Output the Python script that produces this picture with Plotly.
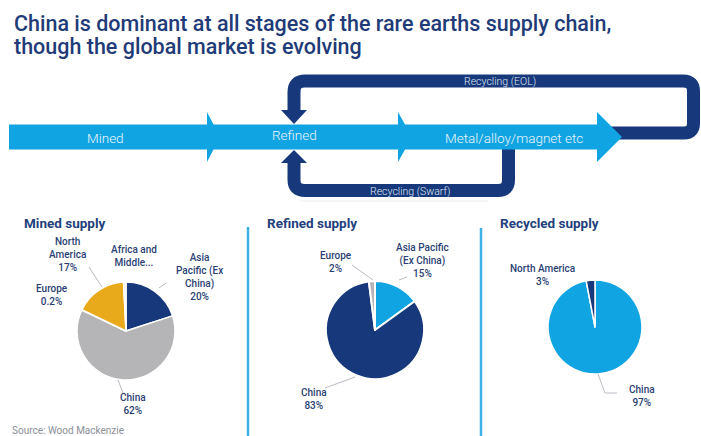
import plotly.graph_objects as go

# ---------------- data ----------------
title_lines = ["China is dominant at all stages of the rare earths supply chain,",
               "though the global market is evolving"]
stage_labels = ["Mined", "Refined", "Metal/alloy/magnet etc"]
loop_labels = ["Recycling (EOL)", "Recycling (Swarf)"]
panel_titles = ["Mined supply", "Refined supply", "Recycled supply"]

mined_labels = ["Asia Pacific (Ex China)", "China", "Europe", "North America", "Africa and Middle East"]
mined_values = [20, 62, 0.2, 17, 0.8]
mined_text = ["Asia<br>Pacific (Ex<br>China)", "China", "Europe", "North<br>America", "Africa and<br>Middle..."]
mined_show_pct = [True, True, True, True, False]

refined_labels = ["Asia Pacific (Ex China)", "China", "Europe"]
refined_values = [15, 83, 2]
refined_text = ["Asia Pacific<br>(Ex China)", "China", "Europe"]

recycled_labels = ["China", "North America"]
recycled_values = [97, 3]
recycled_text = ["China", "North America"]

source_text = "Source: Wood Mackenzie"

# ---------------- styles ----------------
W, H = 701, 436
NAVY = "#17397b"
LBLUE = "#11a4e2"
GOLD = "#e8a91b"
GREY = "#b5b5b7"
TXT = "#2b3f74"
FONT = "Roboto"


def fmt_pct(v):
    return (f"{v:g}%")


def pie_domain(cx, cy, r):
    return dict(x=[(cx - r) / W, (cx + r) / W], y=[1 - (cy + r) / H, 1 - (cy - r) / H])


fig = go.Figure()

# invisible pixel axes for shapes / annotations
fig.add_trace(go.Scatter(x=[0, W], y=[0, H], mode="markers", marker=dict(opacity=0),
                         hoverinfo="skip", showlegend=False))

pie_common = dict(sort=False, direction="clockwise", rotation=0, textinfo="none",
                  hoverinfo="label+percent", showlegend=False)

fig.add_trace(go.Pie(labels=mined_labels, values=mined_values,
                     marker=dict(colors=[NAVY, GREY, GREY, GOLD, "#dfe3ea"],
                                 line=dict(color="white", width=1.5)),
                     domain=pie_domain(126, 331, 49), **pie_common))
fig.add_trace(go.Pie(labels=refined_labels, values=refined_values,
                     marker=dict(colors=[LBLUE, NAVY, GREY],
                                 line=dict(color="white", width=2)),
                     domain=pie_domain(375, 330, 49), **pie_common))
fig.add_trace(go.Pie(labels=recycled_labels, values=recycled_values,
                     marker=dict(colors=[LBLUE, NAVY],
                                 line=dict(color="white", width=1.5)),
                     domain=pie_domain(595, 327, 47), **pie_common))

shapes = []
# recycling loops (drawn first, under the main band)
loop_style = dict(type="path", xref="x", yref="y", line=dict(color=NAVY, width=13), layer="above")
shapes.append(dict(loop_style, path="M 606,133 L 684,133 Q 693.5,133 693.5,123 L 693.5,91 "
                                    "Q 693.5,81 683,81 L 305,81 Q 294,81 294,92 L 294,111"))
shapes.append(dict(loop_style, path="M 508.5,146 L 508.5,180 Q 508.5,190.5 498,190.5 L 305,190.5 "
                                    "Q 294,190.5 294,180 L 294,162"))
head_style = dict(type="path", xref="x", yref="y", fillcolor=NAVY, line=dict(width=0), layer="above")
shapes.append(dict(head_style, path="M 281,110 L 307,110 L 294,124 Z"))
shapes.append(dict(head_style, path="M 281,163 L 307,163 L 294,150 Z"))

# main flow band
shapes.append(dict(type="rect", xref="x", yref="y", x0=9, x1=598, y0=124.5, y1=149.5,
                   fillcolor=LBLUE, line=dict(width=0), layer="above"))
band_head = dict(type="path", xref="x", yref="y", fillcolor=LBLUE, line=dict(width=0), layer="above")
shapes.append(dict(band_head, path="M 207,112 L 220,137 L 207,162 Z"))
shapes.append(dict(band_head, path="M 398,112 L 412,137 L 398,162 Z"))
shapes.append(dict(band_head, path="M 597,112 L 622,137 L 597,162 Z"))

# separators
shapes.append(dict(type="line", xref="x", yref="y", x0=300, x1=488, y0=201, y1=201,
                   line=dict(color="#e9ecf1", width=1)))
for xv, yv in [(248, 227), (481, 228)]:
    shapes.append(dict(type="line", xref="x", yref="y", x0=xv, x1=xv, y0=yv, y1=H,
                       line=dict(color="#3fb1e7", width=2.5)))

# leader lines
leaders = [
    [(89, 267), (102, 287)],
    [(159, 288), (166, 283)],
    [(118, 380), (123, 393)],
    [(352, 265), (373, 280)],
    [(399, 280), (407, 277)],
    [(325, 388), (355, 377)],
    [(598, 374), (605, 393), (617, 393)],
]
for pts in leaders:
    p = "M " + " L ".join(f"{x},{y}" for x, y in pts)
    shapes.append(dict(type="path", xref="x", yref="y", path=p,
                       line=dict(color="#b9bcc2", width=1)))

annotations = []


def ann(x, y, text, size, color, weight=400, xanchor="center", yanchor="middle", align="center"):
    annotations.append(dict(x=x, y=y, xref="x", yref="y", text=text, showarrow=False,
                            xanchor=xanchor, yanchor=yanchor, align=align,
                            font=dict(family=FONT, size=size, color=color, weight=weight)))


# title
ann(12, 23.5, title_lines[0], 21.5, "#1f3b78", 500, xanchor="left")
ann(12, 46, title_lines[1], 21.5, "#1f3b78", 500, xanchor="left")

# stage labels
ann(105, 138, stage_labels[0], 13.5, "#e9f5fc", 300)
ann(294, 135, stage_labels[1], 13.5, "#e9f5fc", 300)
ann(514, 138, stage_labels[2], 13.5, "#e9f5fc", 300)
ann(500, 81, loop_labels[0], 10.5, "#dfe7f3", 300)
ann(410, 191, loop_labels[1], 10.5, "#dfe7f3", 300)

# panel titles
ann(22, 223, panel_titles[0], 13.5, "#23417d", 700, xanchor="left")
ann(265, 223, panel_titles[1], 13.5, "#23417d", 700, xanchor="left")
ann(498, 223, panel_titles[2], 13.5, "#23417d", 700, xanchor="left")

# slice labels
mined_pos = [(199, 277), (133, 404), (52, 295), (67, 254), (134, 256)]
for (x, y), t, v, s in zip(mined_pos, mined_text, mined_values, mined_show_pct):
    ann(x, y, t + ("<br>" + fmt_pct(v) if s else ""), 10, TXT, 500)

refined_pos = [(422, 260), (314, 399), (336, 262)]
for (x, y), t, v in zip(refined_pos, refined_text, refined_values):
    ann(x, y, t + "<br>" + fmt_pct(v), 10, TXT, 500)

recycled_pos = [(642, 396), (542, 275)]
for (x, y), t, v in zip(recycled_pos, recycled_text, recycled_values):
    ann(x, y, t + "<br>" + fmt_pct(v), 10, TXT, 500)

ann(10, 430, source_text, 10, "#8b909a", 400, xanchor="left")

fig.update_layout(
    width=W, height=H, margin=dict(l=0, r=0, t=0, b=0),
    paper_bgcolor="white", plot_bgcolor="white",
    xaxis=dict(range=[0, W], visible=False, fixedrange=True, domain=[0, 1]),
    yaxis=dict(range=[H, 0], visible=False, fixedrange=True, domain=[0, 1]),
    shapes=shapes, annotations=annotations, showlegend=False,
)

fig.write_html("out.html")
